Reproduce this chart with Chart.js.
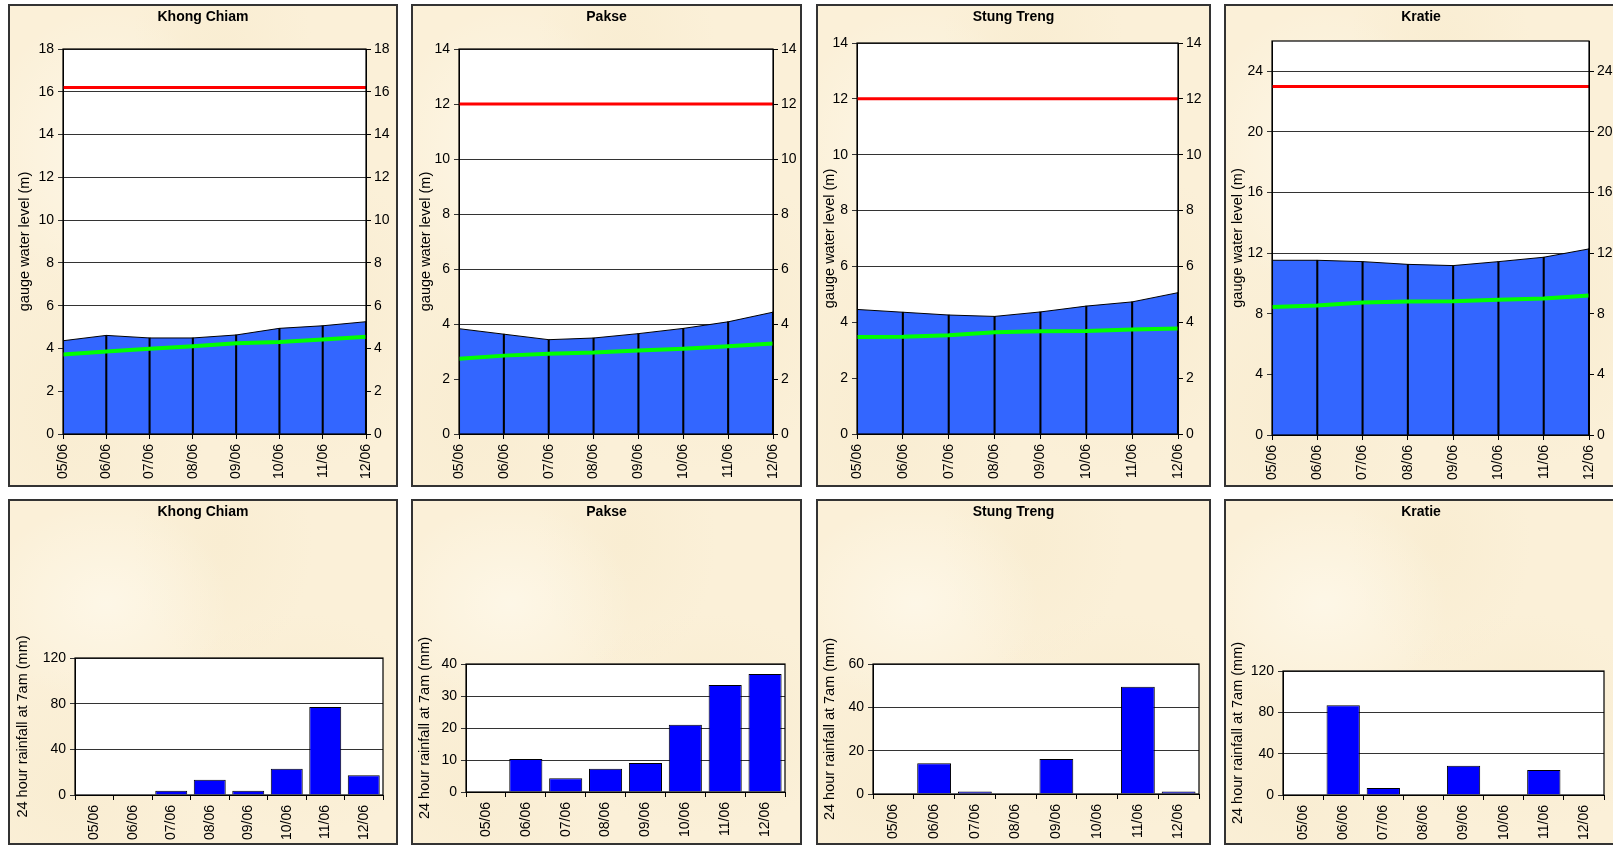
<!DOCTYPE html>
<html>
<head>
<meta charset="utf-8">
<script src="https://cdn.jsdelivr.net/npm/chart.js@4.4.1/dist/chart.umd.min.js"></script>
<style>
html, body { margin:0; padding:0; background:#fff; width:1613px; height:846px; overflow:hidden; }
.panel { position:absolute; box-sizing:border-box; border:2px solid #333;
  background:
    radial-gradient(ellipse at 25% 30%, rgba(255,251,240,0.6), rgba(255,251,240,0) 30%),
    radial-gradient(ellipse at 75% 65%, rgba(246,232,200,0.5), rgba(246,232,200,0) 35%),
    radial-gradient(ellipse at 55% 12%, rgba(247,234,204,0.5), rgba(247,234,204,0) 30%),
    radial-gradient(ellipse at 15% 85%, rgba(247,234,204,0.5), rgba(247,234,204,0) 30%),
    #fbf0d8; }
canvas { position:absolute; }
</style>
</head>
<body>
<script>
// dates on the x axis
var dates = ['05/06','06/06','07/06','08/06','09/06','10/06','11/06','12/06'];
var stations = ['Khong Chiam','Pakse','Stung Treng','Kratie'];

// gauge water level (m)
var levelKhong  = [4.36, 4.61, 4.49, 4.49, 4.63, 4.94, 5.06, 5.25];
var levelPakse  = [3.83, 3.63, 3.43, 3.49, 3.65, 3.84, 4.08, 4.43];
var levelStung  = [4.46, 4.36, 4.26, 4.21, 4.37, 4.58, 4.73, 5.06];
var levelKratie = [11.53, 11.53, 11.44, 11.26, 11.18, 11.44, 11.73, 12.28];

// average level (green line)
var avgKhong  = [3.72, 3.86, 3.99, 4.10, 4.24, 4.30, 4.42, 4.55];
var avgPakse  = [2.74, 2.85, 2.92, 2.96, 3.04, 3.10, 3.19, 3.29];
var avgStung  = [3.47, 3.48, 3.54, 3.64, 3.68, 3.69, 3.74, 3.78];
var avgKratie = [8.45, 8.54, 8.74, 8.81, 8.83, 8.92, 9.00, 9.20];

// flood level (red line)
var floodLevels = [16.2, 12, 12, 23];

// 24 hour rainfall (mm)
var rainKhong  = [0, 0, 3.8, 13.4, 3.8, 23.1, 77.1, 17.2];
var rainPakse  = [0, 10.3, 4.3, 7.3, 9.1, 21.0, 33.4, 36.9];
var rainStung  = [0, 14.2, 1.2, 0, 16.1, 0, 49.5, 1.2];
var rainKratie = [0, 86.9, 6.7, 0, 28.2, 0, 24.1, 0];

// axis ranges
var levelMax = [18, 14, 14, 26];
var levelStep = [2, 2, 2, 4];
var rainMax = [120, 40, 60, 120];
var rainStep = [40, 10, 20, 40];

var levels = [levelKhong, levelPakse, levelStung, levelKratie];
var avgs = [avgKhong, avgPakse, avgStung, avgKratie];
var rains = [rainKhong, rainPakse, rainStung, rainKratie];

// panel boxes and plot offsets
var topGeo = [
  {x:8,    y:4, w:390, h:483, l:55, r:32, t:45, b:53, tp:8.3},
  {x:411,  y:4, w:391, h:483, l:48, r:29, t:45, b:53, tp:6.3},
  {x:816,  y:4, w:395, h:483, l:41, r:33, t:39, b:53, tp:5.3},
  {x:1224, y:4, w:394, h:483, l:48, r:29, t:37, b:52, tp:5.3}
];
var botGeo = [
  {x:8,    y:499, w:390, h:346, l:67, r:15, t:159, b:50, tp:6.3},
  {x:411,  y:499, w:391, h:346, l:55, r:17, t:165, b:53, tp:5.3},
  {x:816,  y:499, w:395, h:346, l:57, r:12, t:165, b:51, tp:5.3},
  {x:1224, y:499, w:394, h:346, l:59, r:14, t:172, b:50, tp:5.3}
];

var FONT = 'Liberation Sans, Arial, sans-serif';

var plotFrame = {
  id: 'plotFrame',
  beforeDraw: function(chart) {
    var a = chart.chartArea, ctx = chart.ctx;
    ctx.save();
    ctx.fillStyle = '#fff';
    ctx.fillRect(a.left, a.top, a.width, a.height);
    ctx.restore();
  },
  afterDraw: function(chart) {
    var a = chart.chartArea, ctx = chart.ctx;
    ctx.save();
    ctx.strokeStyle = '#000';
    ctx.lineWidth = 1.2;
    ctx.strokeRect(a.left, a.top, a.width, a.height);
    ctx.restore();
  }
};

function makeCanvas(g) {
  var p = document.createElement('div');
  p.className = 'panel';
  p.style.left = g.x + 'px'; p.style.top = g.y + 'px';
  p.style.width = g.w + 'px'; p.style.height = g.h + 'px';
  document.body.appendChild(p);
  var c = document.createElement('canvas');
  c.width = g.w; c.height = g.h;
  c.style.left = g.x + 'px'; c.style.top = g.y + 'px';
  c.style.width = g.w + 'px'; c.style.height = g.h + 'px';
  document.body.appendChild(c);
  return c;
}

function titleOpts(text, g) {
  return {
    display: true, text: text, color: '#000',
    font: {family: FONT, size: 14, weight: 'bold', lineHeight: 1.2},
    padding: {top: 4.6, bottom: g.t - 4.6 - 16.8}
  };
}

// keep only the round steps (Excel does not label the axis max when it is off-step)
function stepTicks(step) {
  return function(s) {
    s.ticks = s.ticks.filter(function(t) { return t.value % step === 0; });
  };
}

function levelChart(i) {
  var g = topGeo[i];
  var flood = dates.map(function() { return floodLevels[i]; });
  new Chart(makeCanvas(g), {
    data: {
      labels: dates,
      datasets: [
        {type:'line', data: flood, borderColor:'#ff0000', borderWidth:3, pointRadius:0, fill:false, order:0},
        {type:'line', data: avgs[i], borderColor:'#00ff00', borderWidth:4, pointRadius:0, fill:false, order:1},
        {type:'bar', data: levels[i], backgroundColor:'#000', barThickness:1.4, order:2},
        {type:'line', data: levels[i], borderColor:'#000', borderWidth:1, backgroundColor:'#3366ff',
          fill:'origin', pointRadius:0, tension:0, order:3}
      ]
    },
    options: {
      responsive:false, animation:false,
      layout: {padding: 0},
      plugins: {legend:{display:false}, tooltip:{enabled:false}, title: titleOpts(stations[i], g)},
      scales: {
        x: {
          offset:false,
          grid:{display:true, offset:false, drawOnChartArea:false, color:'#000', tickLength:5},
          border:{color:'#000'},
          ticks:{color:'#000', font:{family:FONT, size:14}, maxRotation:90, minRotation:90, autoSkip:false, padding:5},
          afterFit: function(s) { s.height = g.b; }
        },
        y: {
          position:'left', min:0, max:levelMax[i],
          ticks:{stepSize:levelStep[i], color:'#000', font:{family:FONT, size:14}, padding:4},
          grid:{color:'#333', tickLength:5, lineWidth:1},
          border:{color:'#000'},
          title:{display:true, text:'gauge water level (m)', color:'#000',
            font:{family:FONT, size:14.5}, padding:{top:g.tp, bottom:0}},
          afterBuildTicks: stepTicks(levelStep[i]),
          afterFit: function(s) { s.width = g.l; }
        },
        y2: {
          position:'right', min:0, max:levelMax[i],
          ticks:{stepSize:levelStep[i], color:'#000', font:{family:FONT, size:14}, padding:3},
          grid:{drawOnChartArea:false, color:'#000', tickLength:5},
          border:{color:'#000'},
          afterBuildTicks: stepTicks(levelStep[i]),
          afterFit: function(s) { s.width = g.r; }
        }
      }
    },
    plugins: [plotFrame]
  });
}

function rainChart(i) {
  var g = botGeo[i];
  new Chart(makeCanvas(g), {
    type: 'bar',
    data: {
      labels: dates,
      datasets: [{data: rains[i], backgroundColor:'#0000ff', borderColor:'#000', borderWidth:1,
        categoryPercentage:1, barPercentage:0.83}]
    },
    options: {
      responsive:false, animation:false,
      layout: {padding: 0},
      plugins: {legend:{display:false}, tooltip:{enabled:false}, title: titleOpts(stations[i], g)},
      scales: {
        x: {
          grid:{display:true, drawOnChartArea:false, color:'#000', tickLength:5},
          border:{color:'#000'},
          ticks:{color:'#000', font:{family:FONT, size:14}, maxRotation:90, minRotation:90, autoSkip:false, padding:5},
          afterFit: function(s) { s.height = g.b; }
        },
        y: {
          min:0, max:rainMax[i],
          ticks:{stepSize:rainStep[i], color:'#000', font:{family:FONT, size:14}, padding:4},
          grid:{color:'#333', tickLength:5, lineWidth:1},
          border:{color:'#000'},
          title:{display:true, text:'24 hour rainfall at 7am (mm)', color:'#000',
            font:{family:FONT, size:14.5}, padding:{top:g.tp, bottom:0}},
          afterFit: function(s) { s.width = g.l; }
        },
        // empty right axis, only to keep the gap on the right side
        yr: {
          position:'right', min:0, max:rainMax[i],
          ticks:{display:false},
          grid:{display:false},
          border:{display:false},
          afterFit: function(s) { s.width = g.r; }
        }
      }
    },
    plugins: [plotFrame]
  });
}

for (var i = 0; i < 4; i++) {
  levelChart(i);
  rainChart(i);
}
</script>
</body>
</html>
